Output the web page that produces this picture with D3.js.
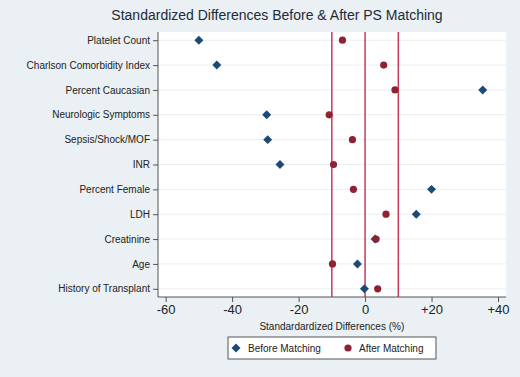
<!DOCTYPE html>
<html>
<head>
<meta charset="utf-8">
<script src="https://cdn.jsdelivr.net/npm/d3@7"></script>
<style>
  html, body { margin: 0; padding: 0; background: #eaf0f3; }
  svg { display: block; }
</style>
</head>
<body>
<div id="chart"></div>
<script>
// data
const variables = ["Platelet Count", "Charlson Comorbidity Index", "Percent Caucasian",
  "Neurologic Symptoms", "Sepsis/Shock/MOF", "INR", "Percent Female", "LDH",
  "Creatinine", "Age", "History of Transplant"];
const beforeMatching = [-50, -44.6, 35.4, -29.6, -29.3, -25.6, 20.0, 15.4, 3.0, -2.3, -0.2];
const afterMatching = [-6.8, 5.6, 9.0, -10.8, -3.8, -9.5, -3.5, 6.3, 3.3, -9.8, 3.8];
const refLines = [-10, 0, 10];
const xTicks = [-60, -40, -20, 0, 20, 40];

const width = 520,
    height = 377,
    margin = { top: 32, right: 14, bottom: 80, left: 158 };

const innerWidth = width - margin.left - margin.right,
    innerHeight = height - margin.top - margin.bottom;

const font = "Liberation Sans, Arial, sans-serif";
const blue = "#1d4a74", red = "#8e2233", lineRed = "#c83a5c";

const svg = d3.select("#chart")
  .append("svg")
  .attr("width", width)
  .attr("height", height)
  .attr("font-family", font);

svg.append("rect")
  .attr("width", width)
  .attr("height", height)
  .attr("fill", "#eaf0f3");

// title
svg.append("text")
  .attr("x", 277)
  .attr("y", 20)
  .attr("text-anchor", "middle")
  .attr("font-size", 14)
  .attr("fill", "#1e2a38")
  .text("Standardized Differences Before & After PS Matching");

const g = svg.append("g")
  .attr("transform", `translate(${margin.left}, ${margin.top})`);

// scales
const xScale = d3.scaleLinear()
  .domain([-62.3, 42.4])
  .range([0, innerWidth]);

const yScale = d3.scalePoint()
  .domain(variables)
  .range([0, innerHeight])
  .padding(0.33);

// plot area
g.append("rect")
  .attr("width", innerWidth)
  .attr("height", innerHeight)
  .attr("fill", "#fff");

// grid lines
g.selectAll(".grid")
  .data(variables)
  .join("line")
  .attr("x1", 0)
  .attr("x2", innerWidth)
  .attr("y1", d => yScale(d))
  .attr("y2", d => yScale(d))
  .attr("stroke", "#eaeff2")
  .attr("stroke-width", 1);

// reference lines
g.selectAll(".ref")
  .data(refLines)
  .join("line")
  .attr("x1", d => xScale(d))
  .attr("x2", d => xScale(d))
  .attr("y1", 0)
  .attr("y2", innerHeight)
  .attr("stroke", lineRed)
  .attr("stroke-width", 1.5);

// axes
const yAxis = g.append("g")
  .call(d3.axisLeft(yScale).tickSize(5).tickPadding(3))
  .attr("font-family", font)
  .attr("font-size", 10);
yAxis.select(".domain").attr("stroke", "#555").attr("d", `M0,0V${innerHeight}`);
yAxis.selectAll(".tick line").attr("stroke", "#555");
yAxis.selectAll("text").attr("fill", "#222");

const xAxis = g.append("g")
  .attr("transform", `translate(0, ${innerHeight})`)
  .call(d3.axisBottom(xScale)
    .tickValues(xTicks)
    .tickSize(5)
    .tickPadding(3)
    .tickFormat(d => d > 0 ? "+" + d : String(d)))
  .attr("font-family", font)
  .attr("font-size", 13);
xAxis.select(".domain").attr("stroke", "#555").attr("d", `M0,0H${innerWidth}`);
xAxis.selectAll(".tick line").attr("stroke", "#555");
xAxis.selectAll("text").attr("fill", "#222");

g.append("text")
  .attr("x", xScale(-10))
  .attr("y", innerHeight + 33)
  .attr("text-anchor", "middle")
  .attr("font-size", 10)
  .attr("fill", "#222")
  .text("Standardardized Differences (%)");

// markers: square rotated 45 degrees
const diamond = d3.symbol().type(d3.symbolSquare).size(40);

g.selectAll(".before")
  .data(beforeMatching)
  .join("path")
  .attr("d", diamond)
  .attr("transform", (d, i) => `translate(${xScale(d)}, ${yScale(variables[i])}) rotate(45)`)
  .attr("fill", blue);

g.selectAll(".after")
  .data(afterMatching)
  .join("circle")
  .attr("cx", d => xScale(d))
  .attr("cy", (d, i) => yScale(variables[i]))
  .attr("r", 3.6)
  .attr("fill", red);

// legend
const legend = svg.append("g")
  .attr("transform", "translate(228, 337)");

legend.append("rect")
  .attr("width", 208)
  .attr("height", 22)
  .attr("fill", "#fff")
  .attr("stroke", "#555");

legend.append("path")
  .attr("d", diamond)
  .attr("transform", "translate(8, 11) rotate(45)")
  .attr("fill", blue);

legend.append("text")
  .attr("x", 20)
  .attr("y", 15)
  .attr("font-size", 10)
  .attr("fill", "#222")
  .text("Before Matching");

legend.append("circle")
  .attr("cx", 120)
  .attr("cy", 11)
  .attr("r", 3.6)
  .attr("fill", red);

legend.append("text")
  .attr("x", 131)
  .attr("y", 15)
  .attr("font-size", 10)
  .attr("fill", "#222")
  .text("After Matching");
</script>
</body>
</html>
